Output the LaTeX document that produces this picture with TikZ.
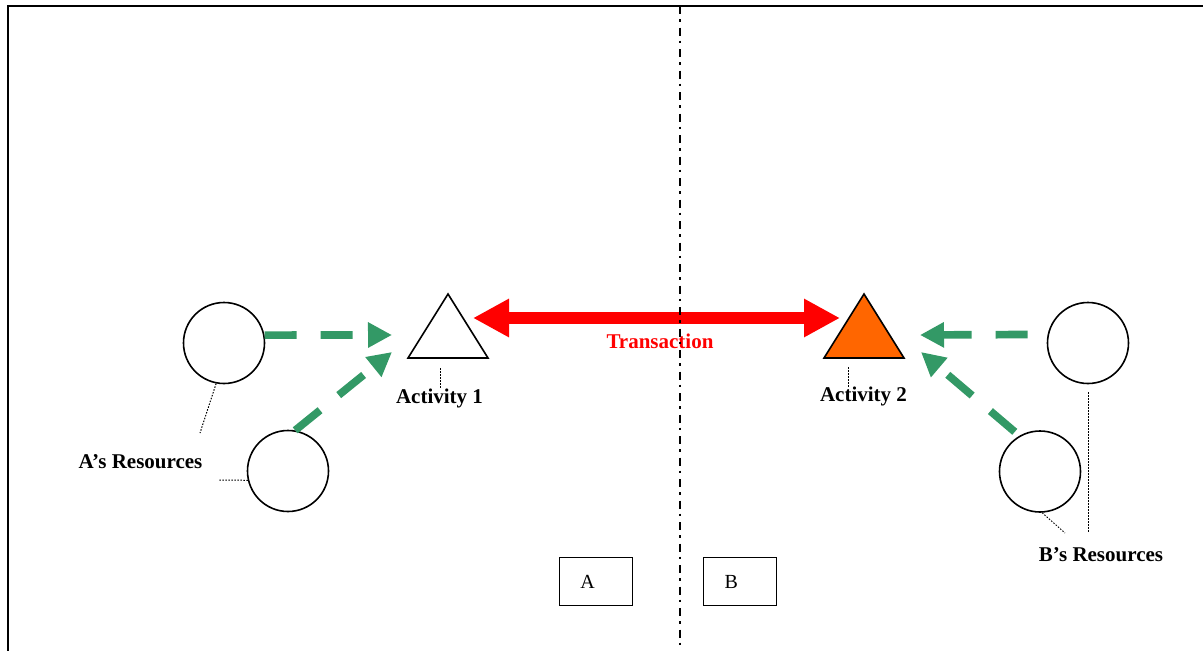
\documentclass[tikz,border=0pt]{standalone}
\usepackage{fontspec}
\setmainfont{Liberation Serif}
\usetikzlibrary{arrows.meta}
\definecolor{seagreen}{HTML}{339966}
\definecolor{actorange}{HTML}{FF6600}
\tikzset{
	resource/.style={circle, draw, line width=1.6pt, minimum size=81pt, inner sep=0pt},
	feed/.style={draw=seagreen, line width=7.7pt, dash pattern=on 32pt off 24pt, -{Triangle[length=24pt, width=24pt]}},
	leader/.style={line width=1pt, dash pattern=on 1.5pt off 1.5pt},
	caption/.style={font=\fontsize{21}{25}\selectfont\bfseries, anchor=base, inner sep=0pt},
	sidebox/.style={draw, line width=1.2pt, minimum height=48pt, inner xsep=21pt, text width=31pt, align=left, font=\fontsize{20}{24}\selectfont}
}
\begin{document}
\begin{tikzpicture}[x=1pt, y=-1pt]
			%%%%% START %%%%%
			\useasboundingbox (0, 0) rectangle (1203, 651);
			
			\draw[line width=2.2pt] (8, 651) -- (8, 6) -- (1203, 6);
			
			% activities
			\draw[line width=1.6pt, fill=white, line join=miter] (408, 358) -- (448, 294) -- (488, 358) -- cycle;
			\draw[line width=1.6pt, fill=actorange, line join=miter] (824, 358) -- (864, 294) -- (904, 358) -- cycle;
			\coordinate (act1) at (473, 318);
			\coordinate (act2) at (840, 318);
			\coordinate (act1 in) at (392, 335);
			\coordinate (act1 in2) at (392, 352);
			\coordinate (act2 in) at (920, 335);
			\coordinate (act2 in2) at (921, 352);
			
			\draw[red, line width=12pt, {Triangle[length=36pt, width=36pt]}-{Triangle[length=36pt, width=36pt]}] (act1) -- (act2);
			\node[caption, text=red] (trans) at (660, 348) {Transaction};
			
			\node[caption] (act1 lbl) at (439.5, 403) {Activity 1};
			\node[caption] (act2 lbl) at (863.5, 401.5) {Activity 2};
			\draw[leader] (440, 368) -- (act1 lbl.north -| 440, 0);
			\draw[leader] (848, 367) -- (act2 lbl.north -| 848, 0);
			
			% resources
			\node[resource] (a1) at (224, 343) {};
			\node[resource] (a2) at (288, 471) {};
			\node[resource] (b1) at (1088, 343) {};
			\node[resource] (b2) at (1040, 471.5) {};
			
			\draw[feed] (a1.11.5) -- (act1 in);
			\draw[feed] (a2.80) -- (act1 in2);
			\draw[feed, shorten <=20pt] (b1.168.5) -- (act2 in);
			\draw[feed, shorten <=6pt] (b2.120) -- (act2 in2);
			
			\node[caption] (res a) at (140.5, 468.3) {A’s Resources};
			\node[caption] (res b) at (1101, 561.7) {B’s Resources};
			\coordinate (res a tip) at (200, 433);
			\coordinate (res a tip2) at (219, 480);
			\coordinate (res b tip) at (1065, 533);
			\coordinate (res b tip2) at (1088, 533);
			\draw[leader] (a1.259) -- (res a tip);
			\draw[leader] (a2.193) -- (res a tip2);
			\draw[leader] (b2.273) -- (res b tip);
			\draw[leader, shorten <=8pt] (b1.south) -- (res b tip2);
			
			% sides
			\node[sidebox] (box a) at (595.8, 581.8) {A};
			\node[sidebox] (box b) at (740, 581.8) {B};
			
			% divider, on top of the transaction arrow
			\draw[line width=1.7pt, dash pattern=on 8pt off 5pt on 2.5pt off 6pt] (680, 6) -- (680, 651);
			
			%%%%% END %%%%%
		\end{tikzpicture}
\end{document}
